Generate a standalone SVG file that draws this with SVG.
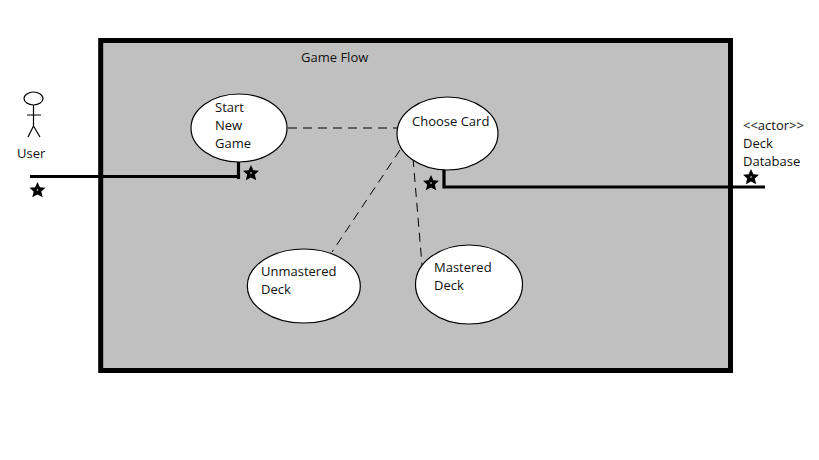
<svg xmlns="http://www.w3.org/2000/svg" width="819" height="460" viewBox="0 0 819 460">
<defs>
<style>
text{font-family:"Open Sans","Noto Sans","Liberation Sans",sans-serif;font-size:13px;fill:#111}
.uc{fill:#fff;stroke:#000;stroke-width:1.2}
.thick{fill:none;stroke:#000;stroke-width:3.2}
.dash{fill:none;stroke:#000;stroke-width:1;stroke-dasharray:9 6}
.thin{fill:none;stroke:#000;stroke-width:1.2}
</style>
<g id="star"><polygon points="0,-8 2.400,-2.800 8,-2.200 3.800,1.600 5.200,7.200 0,4.400 -5.200,7.200 -3.800,1.600 -8,-2.200 -2.400,-2.800" fill="#000"/><circle r="0.800" fill="#fff"/></g>
</defs>
<rect width="819" height="460" fill="#fff"/>
<g id="frame"><rect x="100.700" y="40.500" width="629.800" height="330" fill="#c0c0c0" stroke="#000" stroke-width="5"/><text x="301" y="62">Game Flow</text></g>
<g id="connectors">
<path class="dash" d="M288 128H398"/>
<path class="dash" d="M400 150L332 252"/>
<path class="dash" d="M413 158L422 265"/>
<path class="thick" d="M30 176.500H239M238.500 162V179"/>
<path class="thick" d="M444 170V187H765"/>
</g>
<g id="user"><ellipse class="thin" cx="33.500" cy="98.500" rx="9.500" ry="6.500"/><path class="thin" d="M33.500 105V126M27 115H41M33.500 126L28 137M33.500 126L40 137"/><text x="17" y="158">User</text><use href="#star" x="37.500" y="190"/></g>
<g id="start"><ellipse class="uc" cx="239" cy="128" rx="48" ry="34"/><text x="215" y="112">Start</text><text x="215" y="130">New</text><text x="215" y="148">Game</text><use href="#star" x="251" y="173"/></g>
<g id="choose"><ellipse class="uc" cx="447.500" cy="133.500" rx="50.500" ry="36.500"/><text x="412" y="126">Choose Card</text><use href="#star" x="431" y="183"/></g>
<g id="unmastered"><ellipse class="uc" cx="303.800" cy="286" rx="56.500" ry="37"/><text x="261" y="276">Unmastered</text><text x="261" y="294">Deck</text></g>
<g id="mastered"><ellipse class="uc" cx="469" cy="284.500" rx="53.500" ry="39.500"/><text x="434" y="272">Mastered</text><text x="434" y="290">Deck</text></g>
<g id="database"><text x="743" y="130">&lt;&lt;actor&gt;&gt;</text><text x="743" y="148">Deck</text><text x="743" y="166">Database</text><use href="#star" x="751" y="177"/></g>
</svg>
